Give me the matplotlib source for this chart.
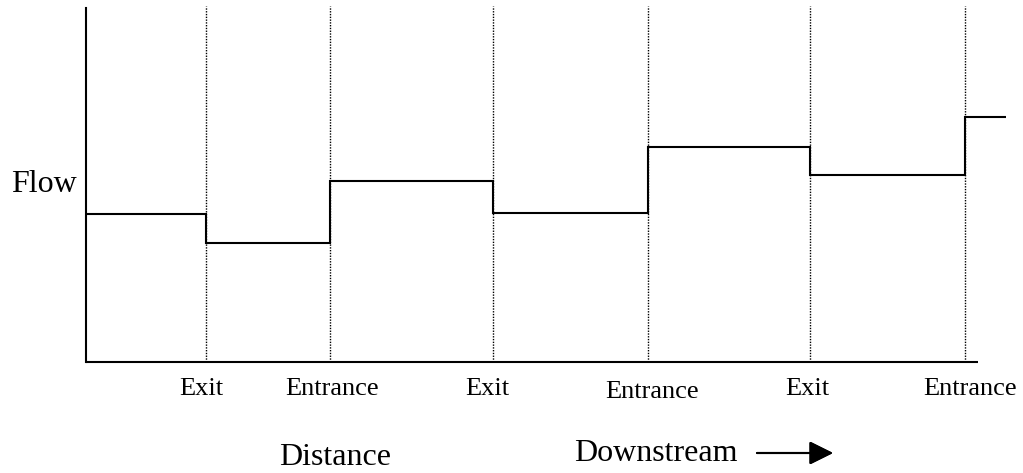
import matplotlib.pyplot as plt

plt.rcParams['font.family'] = ['Liberation Serif', 'DejaVu Serif']

# distance along the river (boundaries of reaches) and flow in each reach
boundaries = [0, 12.0, 24.4, 40.7, 56.2, 72.4, 87.9, 92.0]
flow = [14.8, 11.9, 18.1, 14.9, 21.5, 18.7, 24.5]
markers = [12.0, 24.4, 40.7, 56.2, 72.4, 87.9]
marker_labels = ['Exit', 'Entrance', 'Exit', 'Entrance', 'Exit', 'Entrance']

# small hand placement of the labels (pixels) relative to each dotted line
label_dx = [-4.5, 2, -6, 4, -3, 5]
label_dy = [-27, -27, -27, -30, -27, -27]

fig = plt.figure(figsize=(10.23, 4.73), dpi=100)
ax = fig.add_axes([86 / 1023, 111 / 473, 920 / 1023, 354 / 473])

ax.stairs(flow, boundaries, color='black', linewidth=1.5, baseline=None)

for x in markers:
    ax.plot([x, x], [0, 35.6], color='black', linewidth=1.0,
            linestyle=(0, (1, 1)), clip_on=False)

ax.set_xlim(0, 92)
ax.set_ylim(0, 35.4)

ax.spines['top'].set_visible(False)
ax.spines['right'].set_visible(False)
ax.spines['bottom'].set_visible(False)
ax.spines['left'].set_linewidth(1.5)
ax.plot([0, 89.2], [0, 0], color='black', linewidth=1.5, clip_on=False,
        solid_capstyle='butt')
ax.set_xticks([])
ax.set_yticks([])

for x, lab, dx, dy in zip(markers, marker_labels, label_dx, label_dy):
    ax.annotate(lab, xy=(x, 0), xycoords=('data', 'axes fraction'),
                xytext=(dx * 0.72, dy * 0.72), textcoords='offset points',
                ha='center', va='center', fontsize=19)

fig.text(44 / 1023, 1 - 185 / 473, 'Flow', ha='center', va='center', fontsize=23)
fig.text(335 / 1023, 1 - 457 / 473, 'Distance', ha='center', va='center', fontsize=23)
fig.text(656 / 1023, 1 - 453 / 473, 'Downstream', ha='center', va='center', fontsize=23)
fig.add_artist(plt.annotate('', xy=(833 / 1023, 1 - 453 / 473),
                            xytext=(757 / 1023, 1 - 453 / 473),
                            xycoords='figure fraction',
                            arrowprops=dict(arrowstyle='-|>,head_length=1.45,head_width=0.72',
                                            color='black', linewidth=1.5,
                                            shrinkA=0, shrinkB=0)))

fig.savefig('out.png', dpi=100)
